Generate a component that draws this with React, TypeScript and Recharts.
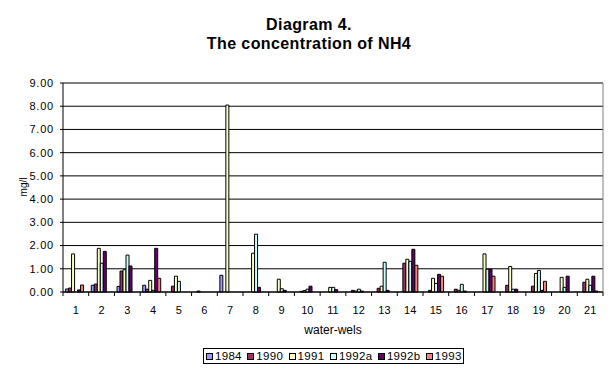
import React from 'react'
import { BarChart, Bar, XAxis, YAxis, CartesianGrid, ReferenceLine } from 'recharts'

// water wells 1..21
const wells = ['1', '2', '3', '4', '5', '6', '7', '8', '9', '10', '11', '12', '13', '14', '15', '16', '17', '18', '19', '20', '21']

const v1984 = [0.13, 0.29, 0.24, 0.29, 0, 0, 0.72, 0, 0, 0, 0, 0, 0, 0, 0, 0, 0, 0, 0, 0, 0]
const v1990 = [0.17, 0.34, 0.9, 0.12, 0.25, 0.04, 0, 0, 0, 0.03, 0, 0.07, 0.16, 1.24, 0.07, 0.12, 0, 0.29, 0.25, 0, 0.42]
const v1991 = [1.64, 1.88, 0.96, 0.5, 0.68, 0, 8.05, 1.67, 0.55, 0.06, 0.2, 0.04, 0.25, 1.41, 0.59, 0.07, 1.64, 1.1, 0.8, 0.63, 0.55]
const v1992a = [0, 1.24, 1.59, 0.07, 0.46, 0, 0, 2.49, 0.14, 0.12, 0.2, 0.12, 1.28, 1.32, 0.37, 0.33, 0.98, 0.12, 0.93, 0.2, 0.29]
const v1992b = [0.09, 1.75, 1.12, 1.88, 0, 0, 0, 0.2, 0.07, 0.25, 0.1, 0.04, 0.07, 1.84, 0.76, 0.04, 0.98, 0.12, 0.07, 0.68, 0.68]
const v1993 = [0.3, 0, 0, 0.59, 0, 0, 0, 0, 0, 0, 0, 0, 0, 1.15, 0.68, 0, 0.68, 0, 0.46, 0, 0.04]

const yTicks = [0, 1, 2, 3, 4, 5, 6, 7, 8, 9]

const series = [
  { key: '1984', values: v1984, color: '#9999FF' },
  { key: '1990', values: v1990, color: '#993366' },
  { key: '1991', values: v1991, color: '#FFFFCC' },
  { key: '1992a', values: v1992a, color: '#CCFFFF' },
  { key: '1992b', values: v1992b, color: '#660066' },
  { key: '1993', values: v1993, color: '#FF8080' },
]

const data = wells.map((w, i) => {
  const row: any = { well: w }
  series.forEach(s => { row[s.key] = s.values[i] })
  return row
})

const FONT = '"Liberation Sans", Arial, sans-serif'
const PLOT_W = 540
const PLOT_BOTTOM = 292
const band = PLOT_W / wells.length

const WellTick = (props: any) => {
  const { x, payload, index } = props
  return (
    <g>
      <line x1={x - band / 2} x2={x - band / 2} y1={PLOT_BOTTOM} y2={PLOT_BOTTOM + 4} stroke="#000" />
      {index === wells.length - 1 && (
        <line x1={x + band / 2} x2={x + band / 2} y1={PLOT_BOTTOM} y2={PLOT_BOTTOM + 4} stroke="#000" />
      )}
      <text x={x} y={PLOT_BOTTOM + 22} textAnchor="middle" fontSize={11} fontFamily={FONT} fill="#000">
        {payload.value}
      </text>
    </g>
  )
}

export default function App() {
  return (
    <div style={{ position: 'absolute', left: 0, top: 0, width: 614, height: 388, background: '#fff', fontFamily: FONT }}>
      <div style={{ position: 'absolute', left: 0, top: 15, width: 618, textAlign: 'center', fontSize: 16, fontWeight: 'bold', lineHeight: '19px', letterSpacing: 0.4 }}>
        Diagram 4.<br />The concentration of NH4
      </div>
      <BarChart
        width={614}
        height={388}
        data={data}
        margin={{ top: 83, right: 0, bottom: 66, left: 0 }}
        barCategoryGap="10%"
        barGap={0}
      >
        <CartesianGrid horizontal vertical={false} stroke="#000" strokeOpacity={1} />
        <XAxis dataKey="well" height={30} axisLine={{ stroke: '#000' }} tickLine={false} tick={<WellTick />} interval={0} />
        <YAxis
          domain={[0, 9]}
          ticks={yTicks}
          width={63}
          tickFormatter={(v: number) => v.toFixed(2)}
          axisLine={{ stroke: '#000' }}
          tickLine={{ stroke: '#000' }}
          tickSize={3}
          tickMargin={6}
          tick={{ fontSize: 11, fill: '#000', fontFamily: FONT, letterSpacing: 0.8 }}
        />
        <YAxis yAxisId="r" orientation="right" width={11} tick={false} tickLine={false} axisLine={{ stroke: '#808080' }} />
        <ReferenceLine y={9} stroke="#808080" />
        {series.map(s => (
          <Bar key={s.key} dataKey={s.key} fill={s.color} stroke="#000" strokeWidth={1} isAnimationActive={false} />
        ))}
      </BarChart>
      <div style={{ position: 'absolute', left: 2, top: 180, width: 44, height: 14, transform: 'rotate(-90deg)', transformOrigin: '22px 7px', textAlign: 'center', fontSize: 10, lineHeight: '14px' }}>
        mg/l
      </div>
      <div style={{ position: 'absolute', left: 63, top: 323, width: 540, textAlign: 'center', fontSize: 12, lineHeight: '14px' }}>
        water-wels
      </div>
      <div style={{ position: 'absolute', left: 203, top: 348, width: 259, height: 14, border: '1px solid #000', display: 'flex', alignItems: 'center', fontSize: 11.5, lineHeight: '14px', letterSpacing: 0.3 }}>
        {series.map(s => (
          <div key={s.key} style={{ display: 'flex', alignItems: 'center', marginLeft: 2, marginRight: 3.5 }}>
            <span style={{ display: 'inline-block', width: 5, height: 5, background: s.color, border: '1px solid #000', marginRight: 2 }} />
            {s.key}
          </div>
        ))}
      </div>
    </div>
  )
}
